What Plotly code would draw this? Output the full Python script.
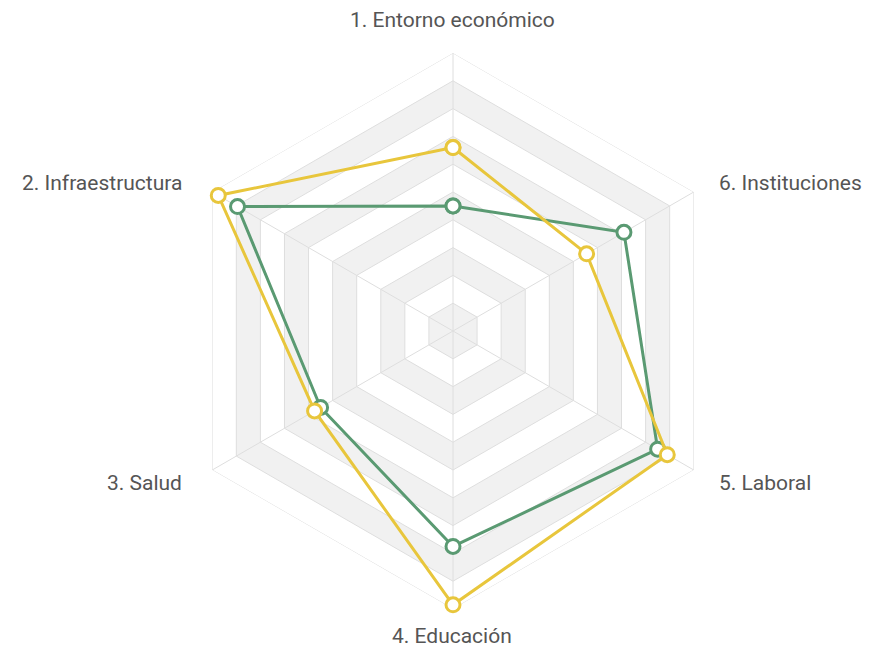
import math
import plotly.graph_objects as go

categories = ["1. Entorno económico", "2. Infraestructura", "3. Salud",
              "4. Educación", "5. Laboral", "6. Instituciones"]
serie_verde = [4.5, 8.95, 5.5, 7.75, 8.5, 7.1]
serie_amarilla = [6.6, 9.75, 5.75, 9.85, 8.9, 5.55]
rings = [10, 9, 8, 7, 6, 5, 4, 3, 2, 1]

GREEN = "#5a9a72"
YELLOW = "#e8c63c"
BAND = "#f1f1f1"
GRID = "#dedede"

W, H = 871, 649
ML, MR, MT, MB = 167, 148, 45, 48
PAGE_OFFSET = 8  # default body margin of the page

fig = go.Figure()

closed = categories + [categories[0]]

# alternating bands + ring lines (outer first, painter's order)
for r in rings:
    fill = BAND if r % 2 == 1 else "white"
    fig.add_trace(go.Scatterpolar(
        r=[r] * (len(categories) + 1), theta=closed, mode="lines",
        fill="toself", fillcolor=fill,
        line=dict(color=GRID, width=1), hoverinfo="skip", showlegend=False))

# spokes
for c in categories:
    fig.add_trace(go.Scatterpolar(
        r=[0, rings[0]], theta=[c, c], mode="lines",
        line=dict(color=GRID, width=1), hoverinfo="skip", showlegend=False))

for vals, col in [(serie_verde, GREEN), (serie_amarilla, YELLOW)]:
    fig.add_trace(go.Scatterpolar(
        r=vals + [vals[0]], theta=closed, mode="lines+markers",
        line=dict(color=col, width=3),
        marker=dict(size=14, color="white", line=dict(color=col, width=3)),
        showlegend=False))

# category labels placed around the hexagon (screen geometry of the polar area)
cx, cy, R = 452, 330, 277
pw, ph = W - ML - MR, H - MT - MB
annotations = []
n = len(categories)
for i, name in enumerate(categories):
    ang = math.radians(90 + 360 / n * i)
    c, s = math.cos(ang), math.sin(ang)
    if abs(c) < 0.1:
        rr = R + (33 if s > 0 else 29)
        px, py = cx + rr * c, cy - rr * s
        xa = "center"
    else:
        rr = R + 23
        px, py = cx + rr * c + (5 if c > 0 else -8), cy - rr * s + 3
        xa = "left" if c > 0 else "right"
    px -= PAGE_OFFSET
    py -= PAGE_OFFSET
    annotations.append(dict(
        text=name, showarrow=False, xref="paper", yref="paper",
        x=(px - ML) / pw, y=1 - (py - MT) / ph,
        xanchor=xa, yanchor="middle",
        font=dict(family="Roboto", size=21, color="#555555")))

fig.update_layout(
    width=W, height=H,
    margin=dict(l=ML, r=MR, t=MT, b=MB),
    paper_bgcolor="white",
    showlegend=False,
    annotations=annotations,
    polar=dict(
        bgcolor="white",
        gridshape="linear",
        radialaxis=dict(range=[0, 10], dtick=1, showticklabels=False,
                        showgrid=False, showline=False, ticks="",
                        layer="below traces"),
        angularaxis=dict(direction="counterclockwise", rotation=90,
                         showgrid=False, showline=False, ticks="",
                         showticklabels=False, layer="below traces"),
    ),
)

fig.write_html("out.html")
